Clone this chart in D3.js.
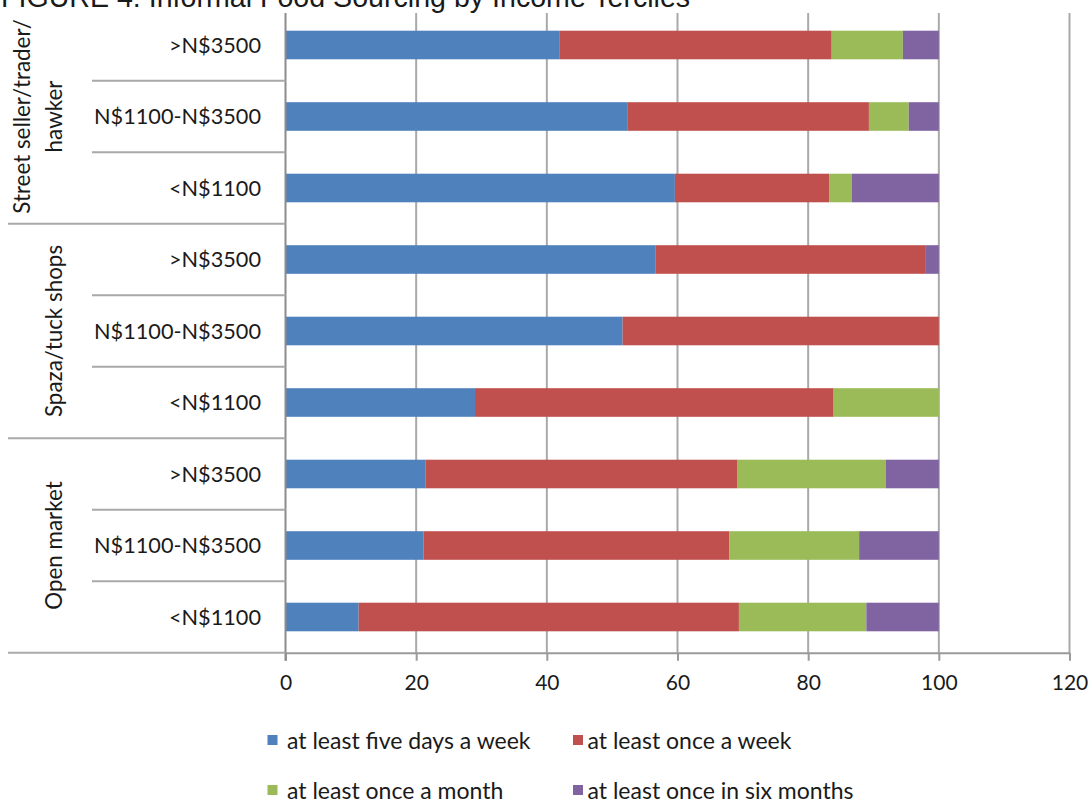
<!DOCTYPE html>
<html>
<head>
<meta charset="utf-8">
<script src="https://cdn.jsdelivr.net/npm/d3@7"></script>
<style>
  html, body { margin: 0; padding: 0; background: #fff; }
  svg { display: block; }
  text { fill: #1a1a1a; }
</style>
</head>
<body>
<svg id="chart" width="1091" height="805"></svg>
<script>
// Outlet types (top to bottom) and their income terciles
const groups = ["Street seller/trader/hawker", "Spaza/tuck shops", "Open market"];
const groupLabelLines = [["Street seller/trader/", "hawker"], ["Spaza/tuck shops"], ["Open market"]];
const incomeLabels = [">N$3500", "N$1100-N$3500", "<N$1100"];

// Share of households (%) per frequency, one value per bar, top bar first
const fiveDaysAWeek  = [41.9, 52.4, 59.6, 56.6, 51.6, 29.0, 21.4, 21.1, 11.2];
const onceAWeek      = [41.7, 36.9, 23.6, 41.3, 48.4, 54.9, 47.8, 46.8, 58.2];
const onceAMonth     = [10.9,  6.1,  3.5,  0.0,  0.0, 16.1, 22.7, 19.9, 19.5];
const onceInSixMonth = [ 5.5,  4.6, 13.3,  2.1,  0.0,  0.0,  8.1, 12.2, 11.1];

const seriesNames = ["at least five days a week", "at least once a week",
                     "at least once a month", "at least once in six months"];
const seriesColors = ["#4F81BD", "#C0504D", "#9BBB59", "#8064A2"];
const xTicks = [0, 20, 40, 60, 80, 100, 120];

const title = "FIGURE 4: Informal Food Sourcing by Income Terciles";

// Rows of the table used by the stack layout
const rows = [];
groups.forEach((g, gi) => {
  incomeLabels.forEach((inc, ii) => {
    const i = gi * incomeLabels.length + ii;
    rows.push({
      key: g + "|" + inc, group: g, income: inc,
      [seriesNames[0]]: fiveDaysAWeek[i],
      [seriesNames[1]]: onceAWeek[i],
      [seriesNames[2]]: onceAMonth[i],
      [seriesNames[3]]: onceInSixMonth[i]
    });
  });
});

const svg = d3.select("#chart");
const font = "Lato, 'Open Sans', sans-serif";

const plot = { left: 285.5, right: 1069.5, top: 9.25, bottom: 652.75, gridTop: 13 };

const x = d3.scaleLinear().domain([0, 120]).range([plot.left, plot.right]);
const y = d3.scaleBand()
  .domain(rows.map(d => d.key))
  .range([plot.top, plot.bottom])
  .paddingInner(0.6)
  .paddingOuter(0.3);

// Title (runs off the top edge of the page)
svg.append("text")
  .attr("x", 1).attr("y", 7)
  .attr("font-family", "'Liberation Sans', Arial, sans-serif")
  .attr("font-size", 28.6)
  .text(title);

// Vertical gridlines
svg.append("g")
  .selectAll("line")
  .data(xTicks.filter(t => t > 0))
  .join("line")
  .attr("x1", d => x(d)).attr("x2", d => x(d))
  .attr("y1", plot.gridTop).attr("y2", plot.bottom)
  .attr("stroke", "#a9a9a9").attr("stroke-width", 2);

// Stacked bars
const stack = d3.stack().keys(seriesNames);
const layers = stack(rows);
svg.append("g")
  .selectAll("g")
  .data(layers)
  .join("g")
  .attr("fill", (d, i) => seriesColors[i])
  .selectAll("rect")
  .data(d => d.filter(s => s[1] - s[0] > 0))
  .join("rect")
  .attr("x", d => x(d[0]))
  .attr("width", d => x(d[1]) - x(d[0]))
  .attr("y", d => y(d.data.key))
  .attr("height", y.bandwidth());

// X axis
const xAxis = svg.append("g")
  .attr("transform", `translate(0,${plot.bottom})`)
  .call(d3.axisBottom(x).tickValues(xTicks).tickSize(8).tickPadding(14).tickSizeOuter(0));
xAxis.select(".domain").attr("stroke", "#9a9a9a").attr("stroke-width", 2);
xAxis.selectAll(".tick line").attr("stroke", "#9a9a9a").attr("stroke-width", 2);
xAxis.selectAll(".tick text")
  .attr("font-family", font).attr("font-size", 21).attr("fill", "#1a1a1a");

// Y axis line
svg.append("line")
  .attr("x1", plot.left).attr("x2", plot.left)
  .attr("y1", plot.gridTop).attr("y2", plot.bottom + 8)
  .attr("stroke", "#8c8c8c").attr("stroke-width", 2);

// Category separators: short between terciles, long between outlet types
const step = y.step();
const boundaries = [];
for (let i = 1; i <= rows.length; i++) {
  boundaries.push({ pos: plot.top + i * step, major: i % incomeLabels.length === 0 });
}
svg.append("g")
  .selectAll("line")
  .data(boundaries)
  .join("line")
  .attr("x1", d => d.major ? 8 : 92)
  .attr("x2", plot.left)
  .attr("y1", d => d.pos).attr("y2", d => d.pos)
  .attr("stroke", "#a9a9a9").attr("stroke-width", 2);

// Income tercile labels
svg.append("g")
  .selectAll("text")
  .data(rows)
  .join("text")
  .attr("x", 261)
  .attr("y", d => y(d.key) + y.bandwidth() / 2)
  .attr("dy", "0.35em")
  .attr("text-anchor", "end")
  .attr("font-family", font).attr("font-size", 21.7)
  .text(d => d.income);

// Outlet type labels, rotated
const groupSpan = step * incomeLabels.length;
groupLabelLines.forEach((lines, gi) => {
  const cy = plot.top + gi * groupSpan + groupSpan / 2;
  lines.forEach((line, li) => {
    const bx = 62 - (lines.length - 1 - li) * 32;
    svg.append("text")
      .attr("transform", `translate(${bx},${cy}) rotate(-90)`)
      .attr("text-anchor", "middle")
      .attr("font-family", font).attr("font-size", 22.4)
      .text(line);
  });
});

// Legend
const legendPos = [
  { sx: 267.5, tx: 287, ty: 749 },
  { sx: 573, tx: 587.5, ty: 749 },
  { sx: 267.5, tx: 287, ty: 799 },
  { sx: 573, tx: 587.5, ty: 799 }
];
const legend = svg.append("g")
  .selectAll("g")
  .data(seriesNames)
  .join("g");
legend.append("rect")
  .attr("x", (d, i) => legendPos[i].sx)
  .attr("y", (d, i) => legendPos[i].ty - 14)
  .attr("width", 10).attr("height", 10)
  .attr("fill", (d, i) => seriesColors[i]);
legend.append("text")
  .attr("x", (d, i) => legendPos[i].tx)
  .attr("y", (d, i) => legendPos[i].ty)
  .attr("font-family", font).attr("font-size", 23)
  .text(d => d);
</script>
</body>
</html>
